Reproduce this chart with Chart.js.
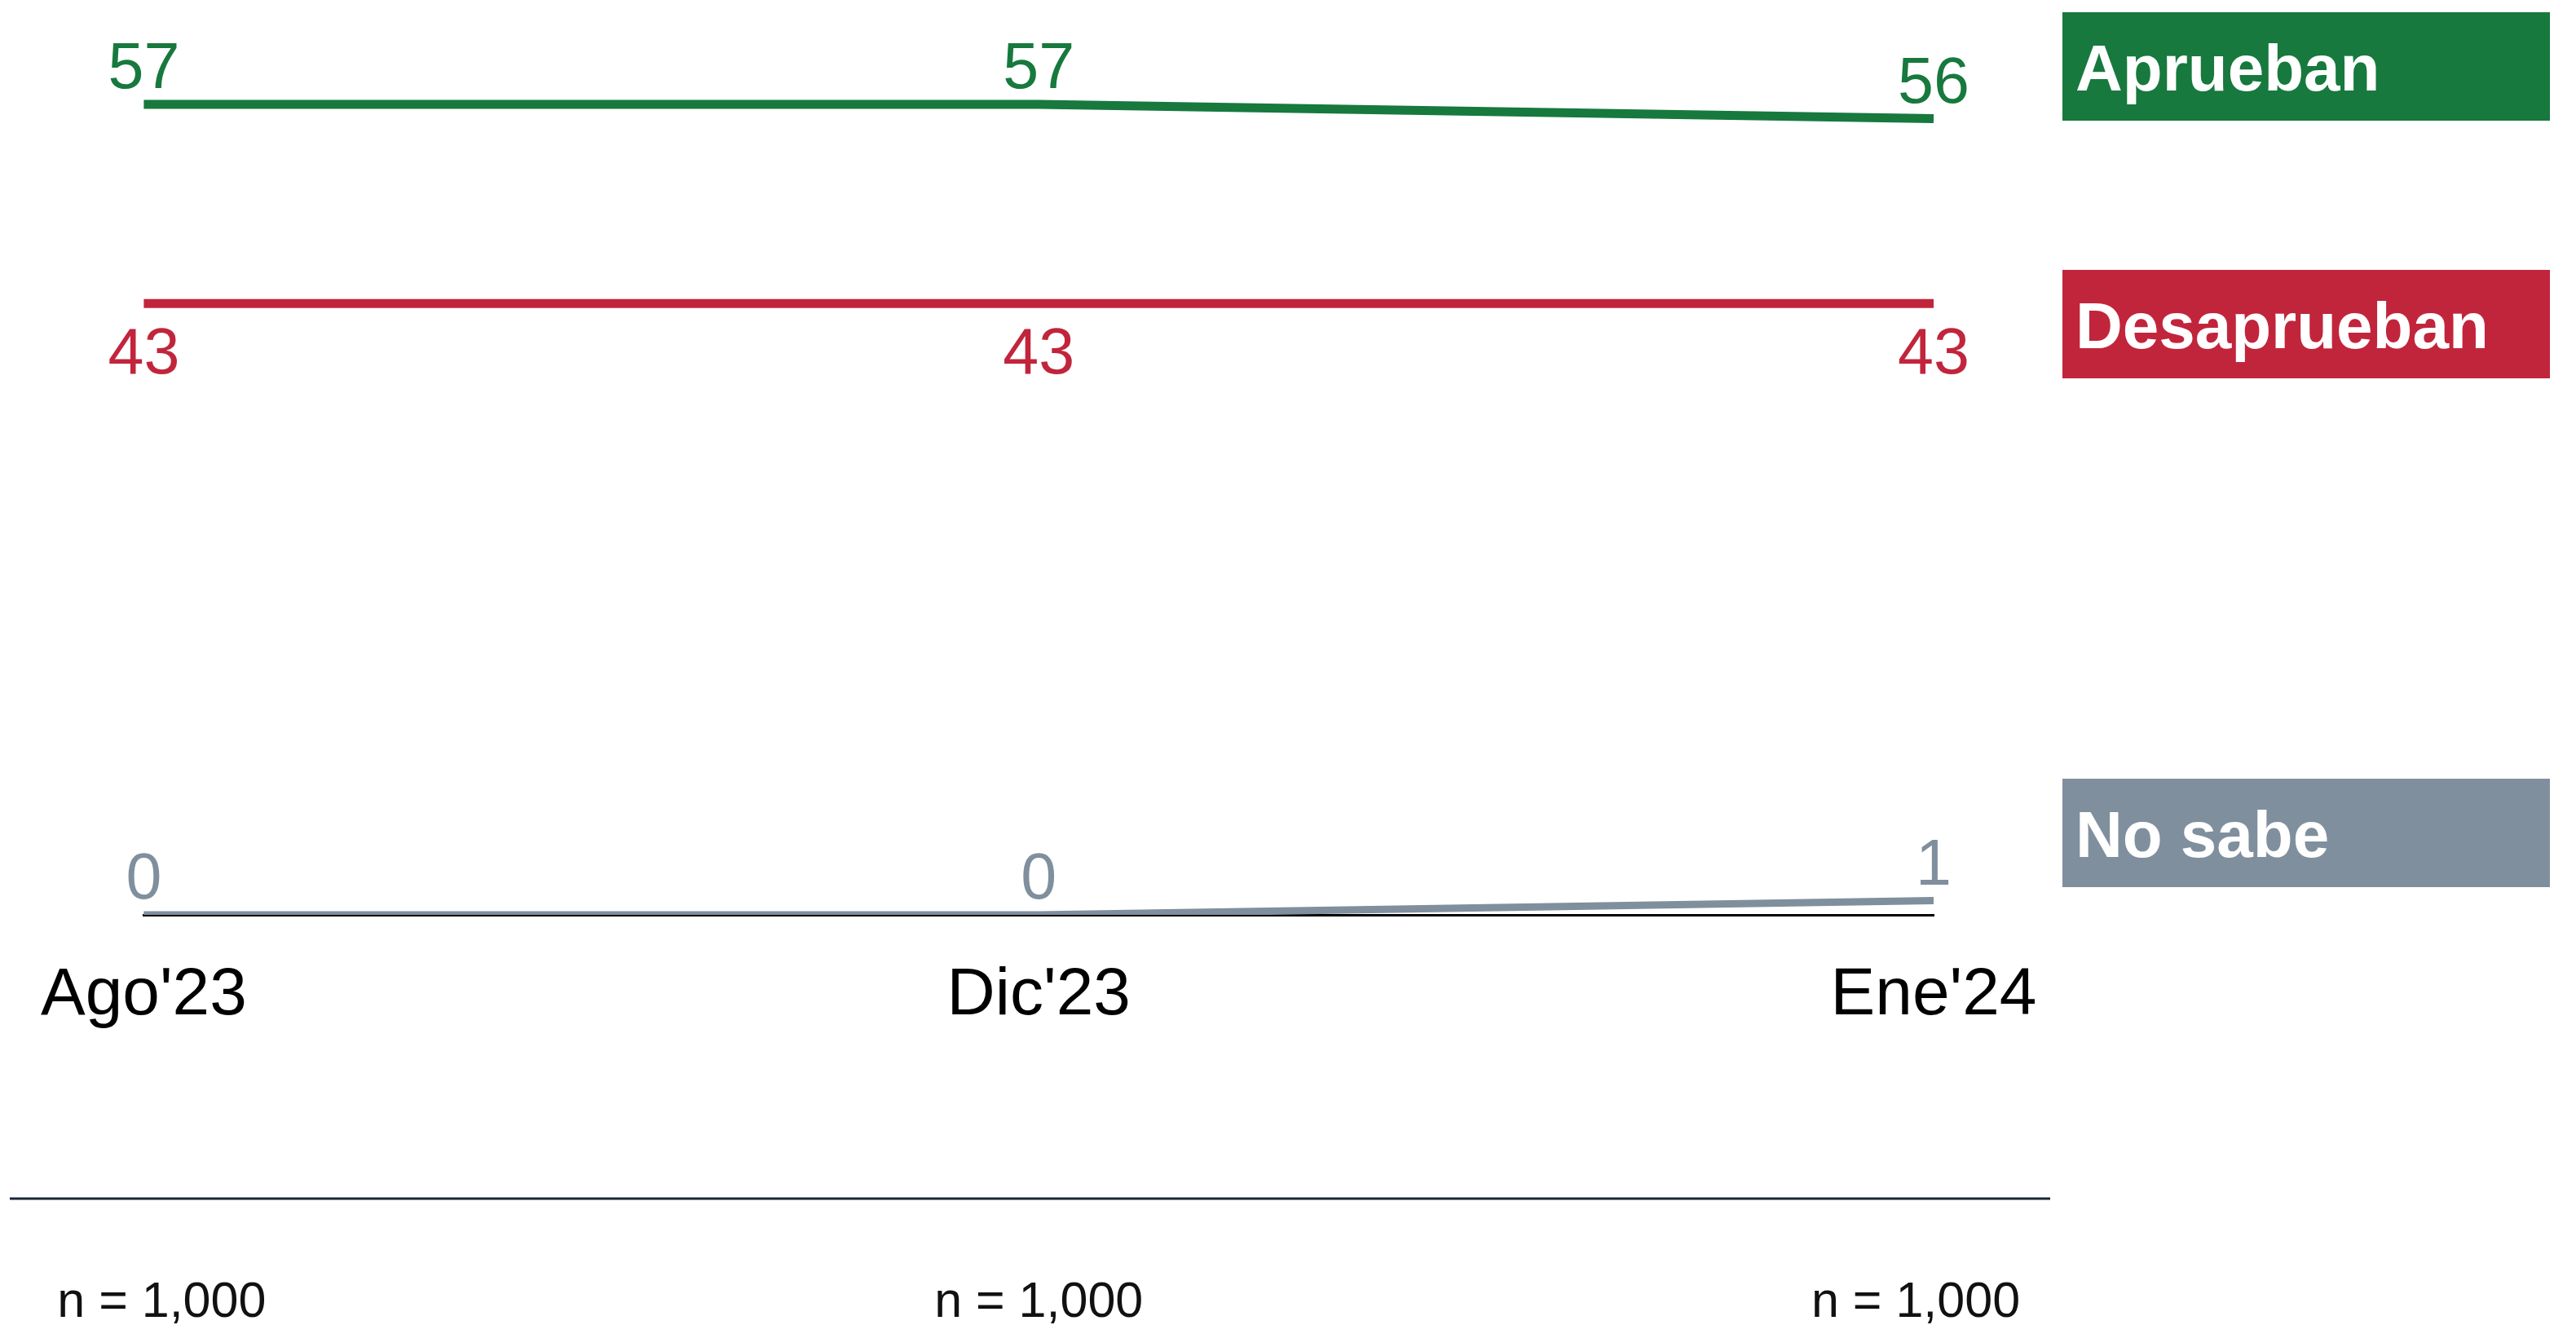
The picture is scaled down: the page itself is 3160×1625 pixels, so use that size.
<!DOCTYPE html>
<html lang="es">
<head>
<meta charset="utf-8">
<title>Aprobación</title>
<script src="https://cdn.jsdelivr.net/npm/chart.js@4/dist/chart.umd.min.js"></script>
<style>
    html, body { margin: 0; padding: 0; background: #ffffff; }
    #wrap { position: relative; width: 3160px; height: 1625px; }
</style>
</head>
<body>
<div id="wrap"><canvas id="approval-chart" width="3160" height="1625"></canvas></div>
<script>
// Chart data
const periods = ["Ago'23", "Dic'23", "Ene'24"];
const aprueban = [57, 57, 56];
const desaprueban = [43, 43, 43];
const noSabe = [0, 0, 1];
const sampleSizes = ['n = 1,000', 'n = 1,000', 'n = 1,000'];
const seriesNames = ['Aprueban', 'Desaprueban', 'No sabe'];

const GREEN = '#17793d';
const RED = '#c1253c';
const GREY = '#808f9d';
const FONT = '"Liberation Sans", Arial, Helvetica, sans-serif';

// Legend boxes on the right (top edge of each box)
const boxTops = [15, 331, 955];

// Numbers next to every point
const valueLabels = {
    id: 'valueLabels',
    afterDatasetsDraw(chart) {
        const ctx = chart.ctx;
        chart.data.datasets.forEach((ds, i) => {
            const meta = chart.getDatasetMeta(i);
            ctx.save();
            ctx.font = '400 79px ' + FONT;
            ctx.fillStyle = ds.borderColor;
            ctx.textAlign = 'center';
            ctx.textBaseline = 'alphabetic';
            meta.data.forEach((pt, j) => {
                const y = ds.labelPos === 'below' ? pt.y + 86 : pt.y - 20;
                ctx.fillText(String(ds.data[j]), pt.x, y);
            });
            ctx.restore();
        });
    }
};

// Coloured boxes with series names
const nameBoxes = {
    id: 'nameBoxes',
    afterDraw(chart) {
        const ctx = chart.ctx;
        ctx.save();
        chart.data.datasets.forEach((ds, i) => {
            const top = boxTops[i];
            ctx.fillStyle = ds.borderColor;
            ctx.fillRect(2530, top, 598, 133);
            ctx.fillStyle = '#ffffff';
            ctx.font = '700 80px ' + FONT;
            ctx.textAlign = 'left';
            ctx.textBaseline = 'alphabetic';
            ctx.fillText(ds.label, 2546, top + 96);
        });
        ctx.restore();
    }
};

// Separator line and sample sizes under the axis
const footer = {
    id: 'footer',
    afterDraw(chart) {
        const ctx = chart.ctx;
        const xScale = chart.scales.x;
        const mid = (chart.chartArea.left + chart.chartArea.right) / 2;
        ctx.save();
        ctx.strokeStyle = '#1b2735';
        ctx.lineWidth = 3;
        ctx.beginPath();
        ctx.moveTo(12, 1470);
        ctx.lineTo(2515, 1470);
        ctx.stroke();

        ctx.fillStyle = '#111111';
        ctx.font = '400 61px ' + FONT;
        ctx.textAlign = 'center';
        ctx.textBaseline = 'alphabetic';
        sampleSizes.forEach((txt, i) => {
            const px = xScale.getPixelForValue(i);
            ctx.fillText(txt, mid + (px - mid) * 0.98, 1615);
        });
        ctx.restore();
    }
};

document.addEventListener('DOMContentLoaded', function() {
    const ctx = document.getElementById('approval-chart');
    new Chart(ctx, {
        type: 'line',
        data: {
            labels: periods,
            datasets: [{
                label: seriesNames[0],
                data: aprueban,
                borderColor: GREEN,
                backgroundColor: GREEN,
                borderWidth: 11,
                labelPos: 'above'
            }, {
                label: seriesNames[1],
                data: desaprueban,
                borderColor: RED,
                backgroundColor: RED,
                borderWidth: 11,
                labelPos: 'below'
            }, {
                label: seriesNames[2],
                data: noSabe,
                borderColor: GREY,
                backgroundColor: GREY,
                borderWidth: 9,
                labelPos: 'above'
            }]
        },
        options: {
            responsive: false,
            devicePixelRatio: 1,
            animation: false,
            layout: {
                padding: { left: 176, right: 788, top: 6, bottom: 0 }
            },
            elements: {
                point: { radius: 0, hoverRadius: 0 },
                line: { tension: 0, borderCapStyle: 'butt' }
            },
            scales: {
                x: {
                    offset: false,
                    grid: { display: false, drawTicks: false },
                    border: { display: true, color: '#000000', width: 3 },
                    ticks: {
                        color: '#000000',
                        padding: 50,
                        maxRotation: 0,
                        font: { family: FONT, size: 82 }
                    },
                    afterFit(scale) {
                        scale.height = 503;
                    }
                },
                y: {
                    display: false,
                    min: 0,
                    max: 64
                }
            },
            plugins: {
                legend: { display: false },
                tooltip: { enabled: false }
            }
        },
        plugins: [valueLabels, nameBoxes, footer]
    });
});
</script>
</body>
</html>
